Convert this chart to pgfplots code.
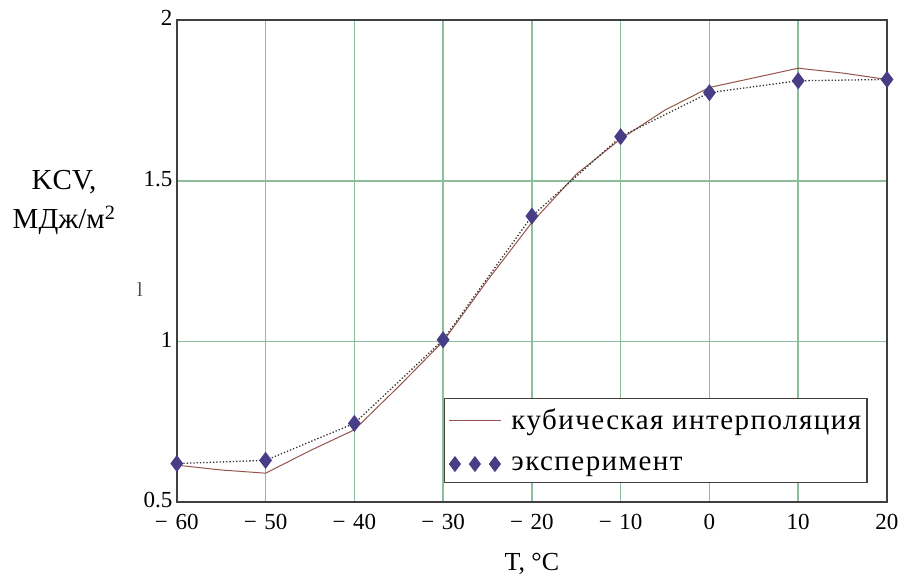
\documentclass[border=0pt]{standalone}
\usepackage{pgfplots}
\pgfplotsset{compat=1.18}
\usepackage{fontspec}
\setmainfont{Liberation Serif}

\definecolor{gridgreen}{RGB}{140,190,155}
\definecolor{interp}{RGB}{150,85,75}
\definecolor{expt}{RGB}{72,62,135}

\pgfplotstableread{
T    kcv
-60  0.615
-55  0.600
-50  0.590
-45  0.660
-40  0.725
-35  0.860
-30  1.000
-25  1.190
-20  1.370
-15  1.520
-10  1.630
-5   1.720
0    1.790
5    1.820
10   1.850
15   1.835
20   1.815
}\cubic

\pgfplotstableread{
T    kcv
-60  0.620
-50  0.630
-40  0.745
-30  1.005
-20  1.390
-10  1.637
0    1.774
10   1.811
20   1.815
}\expdata

\begin{document}
\begin{tikzpicture}
\begin{axis}[
  scale only axis,
  width=710bp, height=482bp,
  xmin=-60, xmax=20, ymin=0.5, ymax=2,
  xtick={-60,-50,...,20},
  xticklabels={−\,\,60,−\,\,50,−\,\,40,−\,\,30,−\,\,20,−\,\,10,0,10,20},
  ytick={0.5,1,1.5,2},
  yticklabels={0.5,1,1.5,2},
  major tick length=0pt,
  grid=major,
  grid style={gridgreen, line width=1.6bp},
  axis line style={black!75, line width=1.8bp},
  tick label style={font=\fontsize{23bp}{26bp}\selectfont},
  xticklabel style={yshift=-9bp},
  yticklabel style={xshift=-1bp, yshift=2bp},
  /pgf/number format/assume math mode=true,
  xlabel={T, °C},
  xlabel style={font=\fontsize{26bp}{30bp}\selectfont, at={(rel axis cs:0.5,0)}, anchor=north, yshift=-48bp},
  ylabel={KCV,\\МДж/м\textsuperscript{2}},
  ylabel style={font=\fontsize{29bp}{39bp}\selectfont, rotate=-90, align=center, at={(rel axis cs:-0.236,0.622)}, anchor=west},
  legend cell align=left,
  legend style={at={(rel axis cs:0.973,0.039)}, anchor=south east,
    font=\fontsize{29bp}{32bp}\selectfont\addfontfeature{LetterSpace=5}, draw=black!75, line width=1.4bp,
    inner xsep=4bp, inner ysep=9bp, /tikz/row sep=21bp, /tikz/column sep=8bp},
  clip=false,
]
\addplot[interp, line width=1bp, mark=none,
  legend image code/.code={\draw[interp, line width=1bp] (0bp,0bp) -- (52bp,0bp);}]
  table[x=T, y=kcv] {\cubic};
\addlegendentry{кубическая интерполяция}
\addplot[black!80, line width=1.3bp, dotted, mark=diamond*, mark size=7.5bp,
  mark options={solid, fill=expt, draw=expt},
  legend image code/.code={
    \draw[expt, fill=expt, only marks, mark=diamond*, mark size=7bp]
      plot coordinates {(6bp,0bp) (26bp,0bp) (46bp,0bp)};
  }] table[x=T, y=kcv] {\expdata};
\addlegendentry{эксперимент}
\node[font=\fontsize{20bp}{24bp}\selectfont, text=black!70] at (rel axis cs:-0.052,0.44) {l};
\coordinate (bl) at (rel axis cs:-0.249,-0.178);
\coordinate (tr) at (rel axis cs:1.0296,1.0415);
\end{axis}
\useasboundingbox (bl) rectangle (tr);
\end{tikzpicture}
\end{document}
